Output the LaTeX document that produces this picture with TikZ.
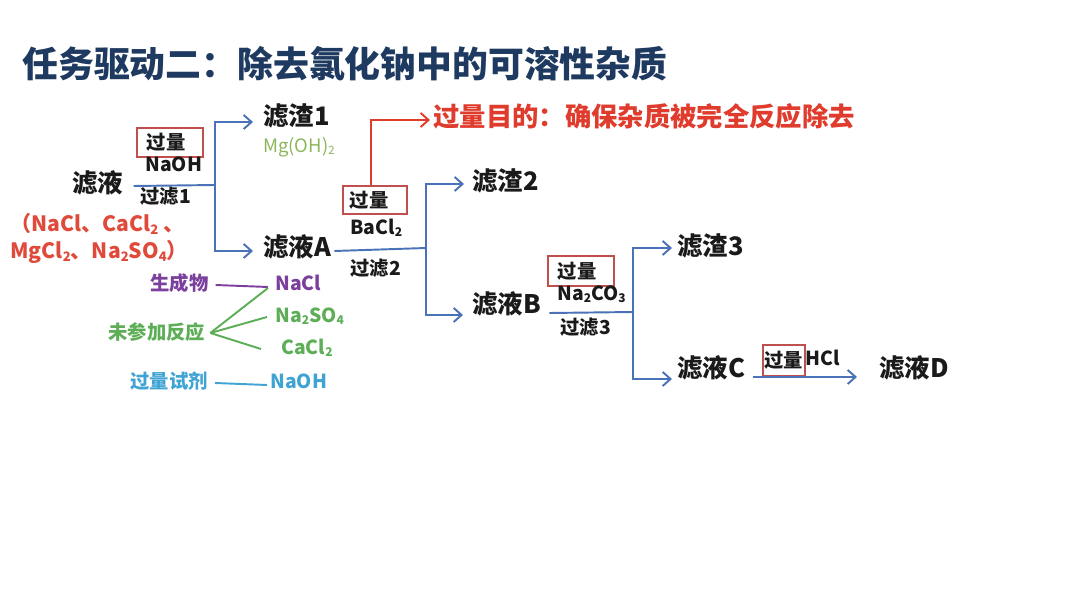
\documentclass[tikz,border=0pt]{standalone}
\usepackage{fontspec}
\setmainfont{Noto Sans CJK SC}
\usetikzlibrary{arrows.meta}
\definecolor{navy}{HTML}{1F3A60}
\definecolor{ink}{HTML}{1A1A1A}
\definecolor{flowblue}{HTML}{4A72B8}
\definecolor{boxred}{HTML}{C0504D}
\definecolor{goalred}{HTML}{E03C2E}
\definecolor{formred}{HTML}{E04A3A}
\definecolor{prodpurple}{HTML}{7B3F9E}
\definecolor{restgreen}{HTML}{5DAE57}
\definecolor{mggreen}{HTML}{8CB65B}
\definecolor{reagblue}{HTML}{3FA4D4}
\newcommand\dn[1]{\raisebox{-0.12em}{\scalebox{0.62}{#1}}}
\tikzset{
  txt/.style={inner sep=0pt, anchor=west, text=ink},
  big/.style={txt, font=\bfseries\fontsize{14.5}{16}\selectfont},
  small/.style={txt, font=\bfseries\fontsize{11}{12}\selectfont},
  note/.style={txt, font=\bfseries\fontsize{11}{12}\selectfont},
  rbox/.style={draw=boxred, line width=0.9pt, inner ysep=0pt, align=left,
    font=\bfseries\fontsize{11}{12}\selectfont, text=ink},
  flow/.style={draw=flowblue, line width=1.1pt},
  arr/.style={flow, -{Straight Barb[length=4.5pt,width=8pt,line width=1.1pt]}},
  redarr/.style={draw=goalred, line width=1.1pt, -{Straight Barb[length=4.5pt,width=8pt,line width=1.1pt]}},
  link/.style={line width=1.1pt},
}
\begin{document}
\begin{tikzpicture}[x=0.02cm, y=-0.02cm]
\fill[white] (0,0) rectangle (1080,608);
\useasboundingbox (0,0) rectangle (1080,608);

% title
\node[txt, text=navy, font=\bfseries\fontsize{20.4}{22}\selectfont] (title) at (22,64) {任务驱动二：除去氯化钠中的可溶性杂质};

% stage 1
\node[big] (f0) at (72,183) {滤液};
\node[txt, text=formred, font=\bfseries\fontsize{12}{13}\selectfont] (form1) at (10,224) {（NaCl、CaCl\dn{2} 、};
\node[txt, text=formred, font=\bfseries\fontsize{12}{13}\selectfont] (form2) at (10,252) {MgCl\dn{2}、Na\dn{2}SO\dn{4}）};
\node[rbox, anchor=north west, inner xsep=0.2cm, text width=0.92cm, minimum height=0.58cm] (b1) at (136,127) {过量};
\node[small] (t1) at (145,164) {NaOH};
\node[small] (l1) at (140,196) {过滤1};
\node[big] (r1) at (263,116) {滤渣1};
\node[txt, text=mggreen, font=\fontsize{10.5}{12}\selectfont] (g1) at (263,147) {Mg(OH)\dn{2}};
\node[big] (fa) at (263,247) {滤液A};
\coordinate (j1) at (215,185);
\draw[flow] ([xshift=0.2cm,yshift=-0.06cm]f0.east) -- (j1);
\draw[arr, shorten >=0.2cm] (j1) |- ([yshift=-0.12cm]r1.west);
\draw[arr, shorten >=0.2cm] (j1) |- ([yshift=-0.08cm]fa.west);

% stage 2
\node[rbox, anchor=north west, inner xsep=0.14cm, text width=1.0cm, minimum height=0.56cm] (b2) at (342,185) {过量};
\node[small] (t2) at (350,228) {BaCl\dn{2}};
\node[small] (l2) at (350,268) {过滤2};
\node[big] (r2) at (472,181) {滤渣2};
\node[big] (fb) at (472,304) {滤液B};
\node[txt, text=goalred, font=\bfseries\fontsize{15}{16}\selectfont] (goal) at (433,116) {过量目的：确保杂质被完全反应除去};
\coordinate (j2) at (426,248);
\draw[flow] ([xshift=0.06cm,yshift=-0.08cm]fa.east) -- (j2);
\draw[arr, shorten >=0.16cm] (j2) |- ([yshift=-0.06cm]r2.west);
\draw[arr, shorten >=0.18cm] (j2) |- ([yshift=-0.22cm]fb.west);
\draw[redarr, shorten >=0.06cm] ([xshift=-0.08cm]b2.north) |- ([yshift=-0.08cm]goal.west);

% stage 3
\node[rbox, anchor=north west, inner xsep=0.2cm, text width=0.92cm, minimum height=0.6cm] (b3) at (547,255) {过量};
\node[small] (t3) at (557,294) {Na\dn{2}CO\dn{3}};
\node[small] (l3) at (560,327) {过滤3};
\node[big] (r3) at (677,246) {滤渣3};
\node[big] (fc) at (677,368) {滤液C};
\coordinate (j3) at (633,312);
\draw[flow] ([xshift=0.16cm,yshift=-0.18cm]fb.east) -- (j3);
\draw[arr, shorten >=0.1cm] (j3) |- ([yshift=-0.04cm]r3.west);
\draw[arr, shorten >=0.1cm] (j3) |- ([yshift=-0.22cm]fc.west);

% stage 4
\node[big] (fd) at (879,368) {滤液D};
\node[rbox, anchor=north west, inner xsep=0.02cm, minimum width=0.84cm, minimum height=0.62cm] (b4) at (762,344) {过量};
\node[small] (t4) at (805,358) {HCl};
\draw[arr, shorten <=0.14cm, shorten >=0.44cm] ([yshift=-0.18cm]fc.east) -- ([yshift=-0.18cm]fd.west);

% composition notes
\node[note, text=prodpurple] (s1) at (150,283) {生成物};
\node[note, text=prodpurple] (n1) at (275,283) {NaCl};
\node[note, text=restgreen] (s2) at (108,332) {未参加反应};
\node[note, text=restgreen] (n2) at (275,316) {Na\dn{2}SO\dn{4}};
\node[note, text=restgreen] (n3) at (281,348) {CaCl\dn{2}};
\node[note, text=reagblue] (s3) at (130,381) {过量试剂};
\node[note, text=reagblue] (n4) at (270,381) {NaOH};
\draw[link, prodpurple] ([xshift=0.14cm,yshift=-0.04cm]s1.east) -- ([xshift=-0.14cm,yshift=-0.08cm]n1.west);
\draw[link, restgreen] ([xshift=0.1cm,yshift=-0.02cm]s2.east) -- ([xshift=-0.14cm,yshift=-0.1cm]n1.west);
\draw[link, restgreen] ([xshift=0.1cm,yshift=-0.02cm]s2.east) -- ([xshift=-0.16cm,yshift=-0.02cm]n2.west);
\draw[link, restgreen] ([xshift=0.1cm,yshift=-0.02cm]s2.east) -- ([xshift=-0.4cm,yshift=-0.02cm]n3.west);
\draw[link, reagblue] ([xshift=0.14cm,yshift=-0.04cm]s3.east) -- ([xshift=-0.06cm,yshift=-0.08cm]n4.west);
\end{tikzpicture}
\end{document}
